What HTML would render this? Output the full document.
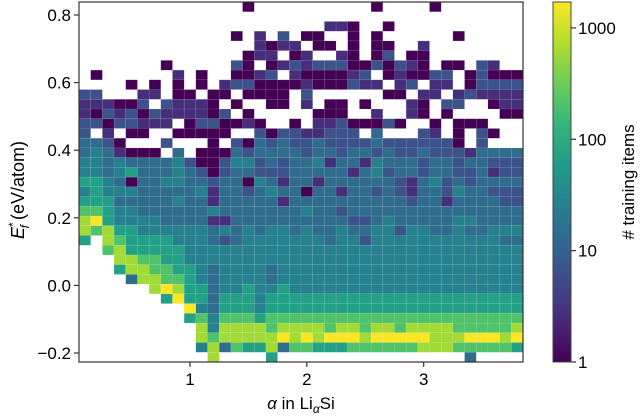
<!DOCTYPE html>
<html><head><meta charset="utf-8"><style>
html,body{margin:0;padding:0;background:#fff;}
svg text{font-family:"Liberation Sans","DejaVu Sans",sans-serif;fill:#000;}
</style></head><body>
<svg id="chart" width="640" height="413" viewBox="0 0 640 413" xmlns="http://www.w3.org/2000/svg">
<defs><linearGradient id="cbg" x1="0" y1="1" x2="0" y2="0"></linearGradient></defs>
<g id="cells"></g>
<rect x="79" y="2" width="444" height="360" fill="none" stroke="#333" stroke-width="1.2"/>
<g id="axes"></g>
<text x="301" y="409" font-size="17" text-anchor="middle"><tspan font-style="italic">α</tspan> in Li<tspan font-style="italic" font-size="12" dy="4">α</tspan><tspan dy="-4">Si</tspan></text>
<text transform="translate(24,190) rotate(-90)" font-size="18" text-anchor="middle"><tspan font-style="italic">E</tspan><tspan font-size="12" dy="-7">*</tspan><tspan font-size="12" font-style="italic" dx="-6" dy="12">f</tspan><tspan dy="-5">  (eV/atom)</tspan></text>
<rect x="553" y="2" width="18" height="360" fill="url(#cbg)" stroke="#444" stroke-width="1"/>
<g id="cbaxis"></g>
<text transform="translate(634,182) rotate(-90)" font-size="17" text-anchor="middle"># training items</text>
</svg>
<script>
// 2D histogram levels (rows top->bottom, E from high to low; cols alpha from low to high)
const levelRows = [
"00000000000000100000000001000010000000",
"00000000000000000000000000000000000000",
"00000000000000000000022100100000000000",
"00000000000001020301100101000000100000",
"00000000000000021220110101100200000000",
"00000000000000122012002101301100000000",
"00000001000003101232333113132101103200",
"01000000201001123021111230121133013111",
"00001010101023311112111322023022013333",
"33000220110110111103000000110220232222",
"22211303222101001102011010002103300122",
"21323132222130100000111002002101000011",
"33133222013311210010223111310010111000",
"30201100111110031332233304000320103100",
"44310003000103143433433334333333103000",
"45421110401114344443443443433433324444",
"55454444531135534344524425444344344333",
"55456444543134433344444245344344334233",
"66541445544344154244244444432453434444",
"56555444445244345441442443432443544333",
"66644444544244444244444444443442444433",
"77655444444544444445443444444444444444",
"89655554444224444444444334544444554444",
"87866555555454545545445445535544544555",
"60876666555434555555545535555555555544",
"00786666655555555555555555555555555555",
"00088776655555555555555555555555555555",
"00068877665455554555555555555555555555",
"00004887765455554555555555555555555555",
"00000089866455655655555555555555555555",
"00000006966466656666666666666666666666",
"00000000095466656666666666666666666666",
"00000000067577767777777777777777777777",
"00000000008588887888878878878888777778",
"00000000008788888989899989999988899989",
"00000000005847668477666777777888777776",
"00000000000800006000000000000000040000"
];
// count (decades fraction of colour scale) per level digit
const levelFrac = [0, 0, 0.13, 0.25, 0.35, 0.44, 0.57, 0.72, 0.86, 1.0];
const cbTicks = [1, 10, 100, 1000];
const cbTickLabels = ["1", "10", "100", "1000"];
const xTicks = [1, 2, 3];
const yTicks = [-0.2, 0.0, 0.2, 0.4, 0.6, 0.8];
const yTickLabels = ["\u22120.2", "0.0", "0.2", "0.4", "0.6", "0.8"];

const NS = "http://www.w3.org/2000/svg";
const VMAX = 1710;
const X0 = 0.05, X1 = 3.85, Y0 = -0.2267, Y1 = 0.8385;
const PL = 79, PR = 523, PT = 2, PB = 362;
const xs = v => PL + (v - X0) / (X1 - X0) * (PR - PL);
const ys = v => PB - (v - Y0) / (Y1 - Y0) * (PB - PT);
const cbY = c => 362 - Math.log10(c) / Math.log10(VMAX) * 360;

const VIR = [[68,1,84],[72,40,120],[62,74,137],[49,104,142],[38,130,142],[31,158,137],[53,183,121],[109,205,89],[180,222,44],[253,231,37]];
function viridis(t){t=Math.max(0,Math.min(1,t));const p=t*(VIR.length-1);const i=Math.min(Math.floor(p),VIR.length-2);const f=p-i;
 const c=VIR[i].map((a,k)=>Math.round(a+(VIR[i+1][k]-a)*f));return `rgb(${c[0]},${c[1]},${c[2]})`;}
const countOf = d => d === 0 ? 0 : Math.pow(10, levelFrac[d] * Math.log10(VMAX));

const nRows = levelRows.length, nCols = 38;
const dx = (X1 - X0) / nCols, dy = (Y1 - Y0) / nRows;
const cells = document.getElementById('cells');
levelRows.forEach((row, r) => {
  const s = row.padEnd(nCols, '0');
  for (let c = 0; c < nCols; c++) {
    const n = countOf(parseInt(s[c], 10));
    if (!n) continue;
    const xa = X0 + c * dx, yTop = Y1 - r * dy;
    const rect = document.createElementNS(NS, 'rect');
    
    
    rect.setAttribute('x', xs(xa).toFixed(2));
    rect.setAttribute('y', ys(yTop).toFixed(2));
    rect.setAttribute('width', (xs(xa + dx) - xs(xa)).toFixed(2));
    rect.setAttribute('height', (ys(yTop - dy) - ys(yTop)).toFixed(2));
    rect.setAttribute('fill', viridis(Math.log10(n) / Math.log10(VMAX)));
    rect.setAttribute('stroke', 'rgba(255,255,255,0.12)');
    rect.setAttribute('stroke-width', '0.6');
    cells.appendChild(rect);
  }
});

const axes = document.getElementById('axes');
function add(parent, tag, attrs, text){const e=document.createElementNS(NS,tag);for(const k in attrs)e.setAttribute(k,attrs[k]);if(text!==undefined)e.textContent=text;parent.appendChild(e);return e;}
xTicks.forEach(v => {
  const t = add(axes, 'line', {x1: xs(v), x2: xs(v), y1: PB, y2: PB + 5, stroke: '#333', 'stroke-width': 1.2});
  
  
  const l = add(axes, 'text', {x: xs(v), y: PB + 23, 'font-size': 17, 'text-anchor': 'middle'}, String(v));
  
  
});
yTicks.forEach((v, i) => {
  const t = add(axes, 'line', {x1: PL - 5, x2: PL, y1: ys(v), y2: ys(v), stroke: '#333', 'stroke-width': 1.2});
  
  
  const l = add(axes, 'text', {x: PL - 8, y: ys(v) + 6, 'font-size': 17, 'text-anchor': 'end'}, yTickLabels[i]);
  
  
});

const grad = document.getElementById('cbg');
for (let i = 0; i <= 20; i++) {
  const st = document.createElementNS(NS, 'stop');
  st.setAttribute('offset', (i / 20).toFixed(2));
  st.setAttribute('stop-color', viridis(i / 20));
  grad.appendChild(st);
}
const cba = document.getElementById('cbaxis');
cbTicks.forEach((c, i) => {
  const t = add(cba, 'line', {x1: 571, x2: 576, y1: cbY(c), y2: cbY(c), stroke: '#333', 'stroke-width': 1.2});
  
  
  const l = add(cba, 'text', {x: 578, y: cbY(c) + 6, 'font-size': 17}, cbTickLabels[i]);
  
  
});
</script>
</body></html>
